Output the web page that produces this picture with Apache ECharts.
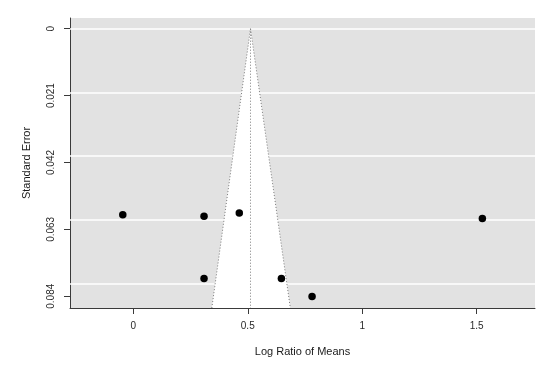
<!DOCTYPE html>
<html>
<head>
<meta charset="utf-8">
<script src="https://cdn.jsdelivr.net/npm/echarts@6/dist/echarts.min.js"></script>
<style>
html, body { margin: 0; padding: 0; background: #fff; }
#chart { width: 550px; height: 369px; }
</style>
</head>
<body>
<div id="chart"></div>
<script>
// study estimates (log ratio of means) and their standard errors
const logRatio = [-0.046, 0.309, 0.463, 0.309, 0.647, 0.781, 1.525]
const stdError = [0.0584, 0.0589, 0.0579, 0.0784, 0.0784, 0.0841, 0.0596]

// funnel outline: apex at the pooled estimate
const funnelX = [0.343, 0.512, 0.686]
const funnelY = [0.0877, 0, 0.0877]

const xTicks = [0, 0.5, 1, 1.5]
const yTicks = [0, 0.021, 0.042, 0.063, 0.084]

const xRange = [-0.2766, 1.755]
const yRange = [-0.00336, 0.0877]

const axisColor = '#3a3a3a'
const font = 'Liberation Sans, Arial, sans-serif'

const chart = echarts.init(document.getElementById('chart'))

const points = logRatio.map((x, i) => [x, stdError[i]])
const edge = funnelX.map((x, i) => [x, funnelY[i]])
const centre = [[funnelX[1], funnelY[1]], [funnelX[1], yRange[1]]]

const dotted = { color: '#7a7a7a', width: 1, type: [1, 2] }

chart.setOption({
  animation: false,
  grid: {
    left: 70, right: 15, top: 18, bottom: 61,
    show: true, backgroundColor: '#e2e2e2', borderWidth: 0
  },
  xAxis: {
    type: 'value',
    min: xRange[0], max: xRange[1],
    name: 'Log Ratio of Means',
    nameLocation: 'middle',
    nameGap: 38,
    nameTextStyle: { fontFamily: font, fontSize: 11, color: '#1a1a1a' },
    axisLine: { show: true, onZero: false, lineStyle: { color: axisColor } },
    axisTick: { show: true, length: 6, customValues: xTicks, lineStyle: { color: axisColor } },
    axisLabel: { customValues: xTicks, margin: 13, fontFamily: font, fontSize: 10, color: '#2a2a2a',
      formatter: v => String(v) },
    splitLine: { show: false }
  },
  yAxis: {
    type: 'value',
    inverse: true,
    min: yRange[0], max: yRange[1],
    name: 'Standard Error',
    nameLocation: 'middle',
    nameGap: 38,
    nameTextStyle: { fontFamily: font, fontSize: 11, color: '#1a1a1a' },
    axisLine: { show: true, onZero: false, lineStyle: { color: axisColor } },
    axisTick: { show: true, length: 6, customValues: yTicks, lineStyle: { color: axisColor } },
    axisLabel: { customValues: yTicks, rotate: 90, margin: 14, fontFamily: font, fontSize: 10, color: '#2a2a2a',
      formatter: v => String(v) },
    splitLine: { show: false }
  },
  series: [
    {
      // white grid lines at the y ticks
      type: 'line',
      data: [],
      z: 1,
      silent: true,
      markLine: {
        z: 1,
        silent: true,
        symbol: ['none', 'none'],
        label: { show: false },
        lineStyle: { color: '#fff', width: 1.5, type: 'solid' },
        data: yTicks.map(v => ({ yAxis: v }))
      }
    },
    {
      // white funnel region
      type: 'custom',
      z: 2,
      silent: true,
      data: [edge[1]],
      renderItem: (params, api) => ({
        type: 'polygon',
        shape: { points: edge.map(p => api.coord(p)) },
        style: { fill: '#fff' }
      })
    },
    {
      type: 'line', data: edge, z: 3, silent: true,
      symbol: 'none', lineStyle: dotted
    },
    {
      type: 'line', data: centre, z: 3, silent: true,
      symbol: 'none', lineStyle: dotted
    },
    {
      type: 'scatter', data: points, z: 6,
      symbol: 'circle', symbolSize: 7.5,
      itemStyle: { color: '#000', opacity: 1 }
    }
  ]
})
</script>
</body>
</html>
